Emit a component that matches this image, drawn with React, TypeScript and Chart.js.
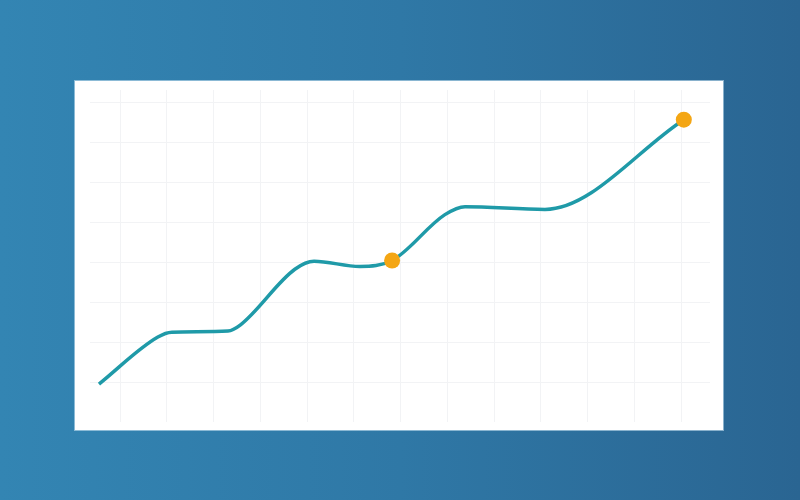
import React, { useEffect, useRef } from "react";
import { Chart, registerables } from "chart.js";

Chart.register(...registerables);

// Data (grid units: one vertical grid line per x unit, one horizontal per y unit)
const xValues = [-0.45, 0.81, 1.11, 2.31, 2.57, 3.74, 4.15, 5.13, 5.82, 6.95, 7.38, 9.09, 12.06];
const yValues = [-0.05, 1.13, 1.25, 1.28, 1.43, 2.83, 3.03, 2.9, 3.05, 4.2, 4.4, 4.33, 6.58];
const highlightIndices = [8, 12];
const xTicks = [0, 1, 2, 3, 4, 5, 6, 7, 8, 9, 10, 11, 12];
const yTicks = [0, 1, 2, 3, 4, 5, 6, 7];

const LINE_COLOR = "#1f9aa8";
const POINT_COLOR = "#f4a614";
const GRID_COLOR = "#f2f3f5";

export default function App() {
  const ref = useRef<HTMLCanvasElement>(null);

  useEffect(() => {
    if (!ref.current) return;
    const chart = new Chart(ref.current, {
      type: "line",
      data: {
        datasets: [
          {
            data: xValues.map((x, i) => ({ x, y: yValues[i] })),
            borderColor: LINE_COLOR,
            borderWidth: 3.5,
            cubicInterpolationMode: "monotone",
            fill: false,
            pointRadius: (ctx: any) => (highlightIndices.includes(ctx.dataIndex) ? 8 : 0),
            pointBackgroundColor: POINT_COLOR,
            pointBorderWidth: 0,
            pointHoverRadius: 0,
          },
        ],
      },
      options: {
        animation: false,
        responsive: false,
        maintainAspectRatio: false,
        events: [],
        layout: { padding: { left: 15, right: 13, top: 9, bottom: 7 } },
        plugins: {
          legend: { display: false },
          tooltip: { enabled: false },
        },
        scales: {
          x: {
            type: "linear",
            min: -0.642,
            max: 12.62,
            afterBuildTicks: (s: any) => {
              s.ticks = xTicks.map((v) => ({ value: v }));
            },
            ticks: { display: false },
            grid: { color: GRID_COLOR, lineWidth: 1, drawTicks: false },
            border: { display: false },
          },
          y: {
            type: "linear",
            min: -1,
            max: 7.325,
            afterBuildTicks: (s: any) => {
              s.ticks = yTicks.map((v) => ({ value: v }));
            },
            ticks: { display: false },
            grid: { color: GRID_COLOR, lineWidth: 1, drawTicks: false },
            border: { display: false },
          },
        },
      },
    });
    return () => chart.destroy();
  }, []);

  return (
    <div
      style={{
        position: "fixed",
        left: 0,
        top: 0,
        width: 800,
        height: 500,
        background: "linear-gradient(90deg, #3385b3 0%, #2f78a6 50%, #2a6592 100%)",
      }}
    >
      <div
        style={{
          position: "absolute",
          left: 75,
          top: 81,
          width: 648,
          height: 349,
          background: "#ffffff",
          boxShadow: "0 0 0 1px rgba(200,225,240,0.6)",
        }}
      >
        <canvas ref={ref} width={648} height={349} style={{ display: "block" }} />
      </div>
    </div>
  );
}
